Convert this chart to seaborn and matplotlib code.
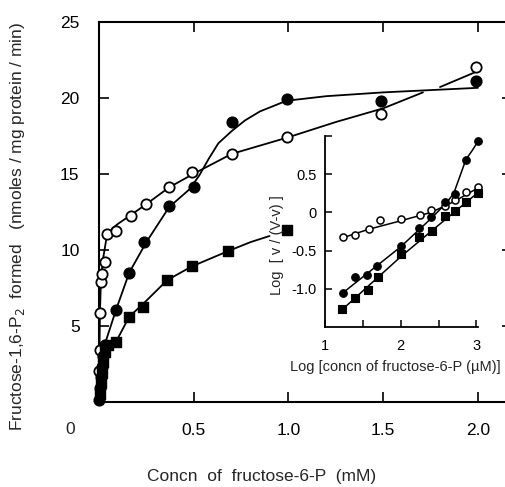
import numpy as np
import seaborn as sns
import matplotlib.pyplot as plt

sns.set_style('ticks')
plt.rcParams['font.family'] = ['Liberation Sans', 'DejaVu Sans']

# --- main plot: rate vs concn of fructose-6-P (mM) ---
open_x = [0.002, 0.004, 0.005, 0.01, 0.015, 0.03, 0.04, 0.09, 0.17, 0.25, 0.37, 0.49, 0.70, 0.99, 1.49, 1.99]
open_y = [2.0, 3.4, 5.85, 7.9, 8.4, 9.2, 11.05, 11.2, 12.2, 13.0, 14.1, 15.1, 16.3, 17.4, 18.9, 22.0]

filled_x = [0.0, 0.005, 0.01, 0.015, 0.022, 0.03, 0.09, 0.16, 0.24, 0.37, 0.50, 0.70, 0.99, 1.49, 1.99]
filled_y = [0.1, 0.9, 1.6, 2.3, 3.0, 3.7, 6.05, 8.5, 10.5, 12.9, 14.1, 18.4, 19.9, 19.8, 21.1]

square_x = [0.004, 0.009, 0.015, 0.022, 0.03, 0.05, 0.09, 0.16, 0.23, 0.36, 0.49, 0.68, 0.99]
square_y = [0.5, 1.2, 1.9, 2.6, 3.3, 3.75, 3.9, 5.6, 6.25, 8.0, 8.9, 9.9, 11.3]

# fitted curves as drawn in the figure
open_curve1_x = [0.0, 0.002, 0.005, 0.01, 0.02, 0.04, 0.07, 0.1, 0.17, 0.25, 0.37, 0.5, 0.7, 1.0, 1.25, 1.5, 1.71]
open_curve1_y = [0.0, 3.0, 5.85, 7.9, 9.3, 10.8, 11.4, 11.7, 12.3, 13.0, 14.1, 15.0, 16.3, 17.4, 18.4, 19.3, 20.35]
open_curve2_x = [1.80, 1.99]
open_curve2_y = [20.7, 21.7]

filled_curve_x = [0.0, 0.01, 0.02, 0.03, 0.09, 0.16, 0.25, 0.37, 0.48, 0.53, 0.58, 0.63, 0.7, 0.77, 0.85, 0.99, 1.2, 1.5, 1.75, 2.0]
filled_curve_y = [0.0, 1.6, 3.0, 3.75, 6.05, 8.5, 10.5, 12.8, 14.0, 14.9, 16.0, 17.0, 17.8, 18.5, 19.1, 19.8, 20.1, 20.35, 20.5, 20.65]

square_curve_x = [0.0, 0.01, 0.02, 0.03, 0.06, 0.09, 0.16, 0.23, 0.36, 0.49, 0.68, 0.8, 0.9]
square_curve_y = [0.0, 1.4, 2.6, 3.3, 3.75, 3.95, 5.6, 6.4, 8.0, 8.9, 9.9, 10.5, 10.9]

# --- inset: log v/(V-v) vs log concn (uM) ---
in_open_x = [1.24, 1.40, 1.58, 1.72, 2.01, 2.25, 2.40, 2.59, 2.71, 2.86, 3.02]
in_open_y = [-0.32, -0.29, -0.22, -0.10, -0.09, -0.03, 0.03, 0.09, 0.16, 0.27, 0.33]

in_filled_x = [1.24, 1.39, 1.56, 1.69, 2.00, 2.24, 2.40, 2.59, 2.71, 2.86, 3.02]
in_filled_y = [-1.05, -0.85, -0.82, -0.70, -0.44, -0.20, -0.06, 0.13, 0.24, 0.68, 0.93]

in_square_x = [1.23, 1.40, 1.57, 1.70, 2.00, 2.24, 2.41, 2.59, 2.71, 2.86, 3.02]
in_square_y = [-1.26, -1.12, -1.02, -0.84, -0.55, -0.32, -0.24, -0.05, 0.02, 0.13, 0.26]

in_open_line_x = [1.24, 1.58, 2.0, 2.4, 2.7, 3.02]
in_open_line_y = [-0.33, -0.22, -0.11, 0.0, 0.14, 0.32]
in_filled_line_x = [1.24, 2.0, 2.4, 2.6, 2.7, 2.78, 2.86, 2.95, 3.02]
in_filled_line_y = [-1.05, -0.45, -0.08, 0.12, 0.25, 0.47, 0.69, 0.82, 0.93]
in_square_line_x = [1.23, 2.0, 2.41, 3.02]
in_square_line_y = [-1.27, -0.58, -0.24, 0.26]

W, H = 506, 487
fig = plt.figure(figsize=(W / 100, H / 100), dpi=100)

ax = fig.add_axes([99 / W, (H - 401.7) / H, (512 - 99) / W, (401.7 - 21.7) / H])
ax.set_xlim(0, 2.18)
ax.set_ylim(0, 25)

line_kw = dict(color='black', linewidth=1.3, sort=False, estimator=None, ax=ax)
sns.lineplot(x=open_curve1_x, y=open_curve1_y, **line_kw)
sns.lineplot(x=open_curve2_x, y=open_curve2_y, **line_kw)
sns.lineplot(x=filled_curve_x, y=filled_curve_y, **line_kw)
sns.lineplot(x=square_curve_x, y=square_curve_y, **line_kw)

sns.scatterplot(x=open_x, y=open_y, marker='o', s=55, color='white', edgecolor='black',
                linewidth=1.3, ax=ax, zorder=3, clip_on=False)
sns.scatterplot(x=square_x, y=square_y, marker='s', s=60, color='black', edgecolor='black',
                linewidth=1, ax=ax, zorder=4, clip_on=False)
sns.scatterplot(x=filled_x, y=filled_y, marker='o', s=60, color='black', edgecolor='black',
                linewidth=1, ax=ax, zorder=4, clip_on=False)

ax.set_xticks([0.5, 1.0, 1.5, 2.0])
ax.set_xticklabels(['0.5', '1.0', '1.5', '2.0'])
ax.set_yticks([5, 10, 15, 20, 25])
ax.set_yticklabels(['5', '10', '15', '20', '25'])
ax.tick_params(direction='in', length=7, width=1.2, top=True, right=True,
               labelsize=12.5, colors='black')
ax.tick_params(axis='x', pad=15)
ax.tick_params(axis='y', pad=14)
for sp in ax.spines.values():
    sp.set_linewidth(1.5)
    sp.set_color('black')

fig.text(70 / W, 1 - 430 / H, '0', fontsize=12.5, ha='center', va='center')
fig.text(262 / W, 1 - 477 / H, 'Concn  of  fructose-6-P  (mM)', fontsize=12.5,
         ha='center', va='center')
fig.text(18 / W, 1 - 226 / H, 'Fructose-1,6-P$_2$  formed   (nmoles / mg protein / min)',
         fontsize=12.5, rotation=90, ha='center', va='center')

# inset
axin = fig.add_axes([325 / W, (H - 327) / H, (478 - 325) / W, (327 - 136) / H])
axin.patch.set_alpha(0)
axin.set_xlim(1, 3.02)
axin.set_ylim(-1.5, 1.0)

in_kw = dict(color='black', linewidth=1.1, sort=False, estimator=None, ax=axin)
sns.lineplot(x=in_open_line_x, y=in_open_line_y, **in_kw)
sns.lineplot(x=in_filled_line_x, y=in_filled_line_y, **in_kw)
sns.lineplot(x=in_square_line_x, y=in_square_line_y, **in_kw)

sns.scatterplot(x=in_open_x, y=in_open_y, marker='o', s=26, color='white', edgecolor='black',
                linewidth=1.1, ax=axin, zorder=3, clip_on=False)
sns.scatterplot(x=in_square_x, y=in_square_y, marker='s', s=30, color='black', edgecolor='black',
                linewidth=0.8, ax=axin, zorder=4, clip_on=False)
sns.scatterplot(x=in_filled_x, y=in_filled_y, marker='o', s=30, color='black', edgecolor='black',
                linewidth=0.8, ax=axin, zorder=4, clip_on=False)

axin.set_xticks([1, 1.5, 2, 2.5, 3])
axin.set_xticklabels(['1', '', '2', '', '3'])
axin.set_yticks([-1.0, -0.5, 0, 0.5, 1.0])
axin.set_yticklabels(['-1.0', '-0.5', '0', '0.5', ''])
axin.tick_params(direction='in', length=5, width=1.1, labelsize=10.5, colors='black')
axin.tick_params(axis='x', pad=9)
axin.tick_params(axis='y', pad=6)
sns.despine(ax=axin)
for sp in ['left', 'bottom']:
    axin.spines[sp].set_linewidth(1.3)
    axin.spines[sp].set_color('black')

fig.text(395 / W, 1 - 367 / H, 'Log [concn of fructose-6-P (\u00b5M)]', fontsize=10.5,
         ha='center', va='center')
fig.text(277 / W, 1 - 245 / H, 'Log  [ v / (V-v) ]', fontsize=10.5, rotation=90,
         ha='center', va='center')

fig.savefig('out.png', dpi=100)
